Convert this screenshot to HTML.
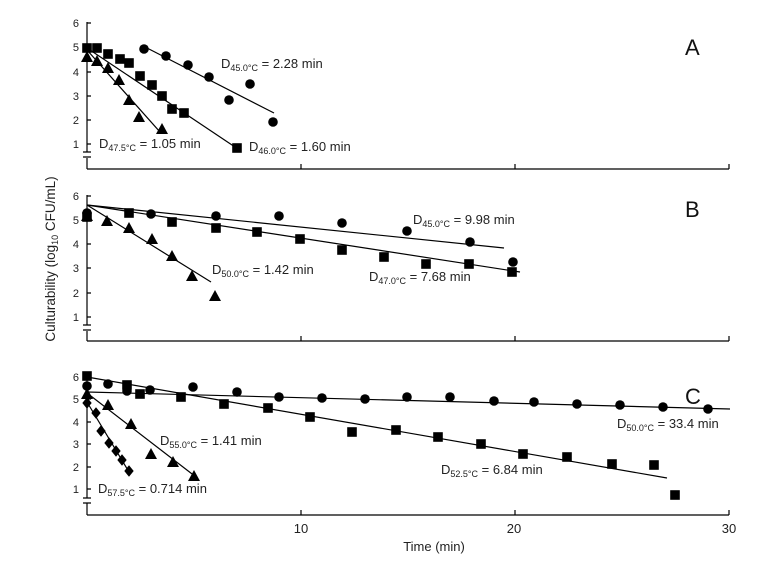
<!DOCTYPE html>
<html><head><meta charset="utf-8"><style>
body{margin:0;background:#fff}
svg{display:block;font-family:"Liberation Sans",Arial,sans-serif}
</style></head><body>
<svg width="766" height="566" viewBox="0 0 766 566" xmlns="http://www.w3.org/2000/svg">
<defs>
<circle id="c" r="4.8" fill="#000"/>
<rect id="s" x="-4.8" y="-4.8" width="9.6" height="9.6" fill="#000"/>
<polygon id="t" points="0,-6 6,5 -6,5" fill="#000"/>
<polygon id="d" points="0,-5.8 4.7,0 0,5.8 -4.7,0" fill="#000"/>
</defs>
<g stroke="#000" stroke-width="1.2" fill="none">
<path d="M87,22V152M87,158V169M83,152h8M83,157h8M87,169H729M301,169v-5M515,169v-5M729,169v-5"/>
<path d="M87,23h4M87,47h4M87,72h4M87,96h4M87,120h4M87,144h4"/>
<path d="M87,195V325M87,331V341M83,325h8M83,330h8M87,341H729M301,341v-5M515,341v-5M729,341v-5"/>
<path d="M87,196h4M87,220h4M87,244h4M87,268h4M87,293h4M87,317h4"/>
<path d="M87,376V498M87,503V515M83,498h8M83,503h8M87,515H729M301,515v-5M515,515v-5M729,515v-5"/>
<path d="M87,377h4M87,399h4M87,422h4M87,444h4M87,467h4M87,489h4"/>
</g>
<g font-size="11" fill="#222" text-anchor="end">
<text x="79" y="27">6</text><text x="79" y="51">5</text><text x="79" y="76">4</text><text x="79" y="100">3</text><text x="79" y="124">2</text><text x="79" y="148">1</text>
<text x="79" y="200">6</text><text x="79" y="224">5</text><text x="79" y="248">4</text><text x="79" y="272">3</text><text x="79" y="297">2</text><text x="79" y="321">1</text>
<text x="79" y="381">6</text><text x="79" y="403">5</text><text x="79" y="426">4</text><text x="79" y="448">3</text><text x="79" y="471">2</text><text x="79" y="493">1</text>
</g>
<g font-size="13" fill="#222" text-anchor="middle">
<text x="301" y="533">10</text><text x="514" y="533">20</text><text x="729" y="533">30</text>
<text x="434" y="551">Time (min)</text>
</g>
<text transform="translate(55,259) rotate(-90)" font-size="13.5" fill="#222" text-anchor="middle">Culturability (log<tspan font-size="9" dy="3">10</tspan><tspan dy="-3"> CFU/mL)</tspan></text>
<g font-size="22" fill="#111"><text x="685" y="55">A</text><text x="685" y="217">B</text><text x="685" y="404">C</text></g>
<g stroke="#000" stroke-width="1.2">
<line x1="147" y1="48" x2="274" y2="113"/>
<line x1="87" y1="48" x2="235" y2="147"/>
<line x1="87" y1="50" x2="160" y2="132"/>
<line x1="87" y1="205" x2="504" y2="248"/>
<line x1="87" y1="205" x2="520" y2="272"/>
<line x1="87" y1="205" x2="211" y2="282"/>
<line x1="87" y1="392" x2="730" y2="409"/>
<line x1="87" y1="377" x2="667" y2="478"/>
<line x1="87" y1="393" x2="196" y2="477"/>
<line x1="87" y1="402" x2="129" y2="472"/>
</g>
<use href="#c" x="144" y="49"/><use href="#c" x="166" y="56"/><use href="#c" x="188" y="65"/><use href="#c" x="209" y="77"/><use href="#c" x="229" y="100"/><use href="#c" x="250" y="84"/><use href="#c" x="273" y="122"/>
<use href="#s" x="87" y="48"/><use href="#s" x="97" y="48"/><use href="#s" x="108" y="54"/><use href="#s" x="120" y="59"/><use href="#s" x="129" y="63"/><use href="#s" x="140" y="76"/><use href="#s" x="152" y="85"/><use href="#s" x="162" y="96"/><use href="#s" x="172" y="109"/><use href="#s" x="184" y="113"/><use href="#s" x="237" y="148"/>
<use href="#t" x="87" y="57"/><use href="#t" x="97" y="61"/><use href="#t" x="108" y="68"/><use href="#t" x="119" y="80"/><use href="#t" x="129" y="100"/><use href="#t" x="139" y="117"/><use href="#t" x="162" y="129"/>
<use href="#c" x="87" y="213"/><use href="#c" x="151" y="214"/><use href="#c" x="216" y="216"/><use href="#c" x="279" y="216"/><use href="#c" x="342" y="223"/><use href="#c" x="407" y="231"/><use href="#c" x="470" y="242"/><use href="#c" x="513" y="262"/>
<use href="#s" x="87" y="217"/><use href="#s" x="129" y="213"/><use href="#s" x="172" y="222"/><use href="#s" x="216" y="228"/><use href="#s" x="257" y="232"/><use href="#s" x="300" y="239"/><use href="#s" x="342" y="250"/><use href="#s" x="384" y="257"/><use href="#s" x="426" y="264"/><use href="#s" x="469" y="264"/><use href="#s" x="512" y="272"/>
<use href="#t" x="87" y="216"/><use href="#t" x="107" y="221"/><use href="#t" x="129" y="228"/><use href="#t" x="152" y="239"/><use href="#t" x="172" y="256"/><use href="#t" x="192" y="276"/><use href="#t" x="215" y="296"/>
<use href="#c" x="87" y="386"/><use href="#c" x="108" y="384"/><use href="#c" x="127" y="391"/><use href="#c" x="150" y="390"/><use href="#c" x="193" y="387"/><use href="#c" x="237" y="392"/><use href="#c" x="279" y="397"/><use href="#c" x="322" y="398"/><use href="#c" x="365" y="399"/><use href="#c" x="407" y="397"/><use href="#c" x="450" y="397"/><use href="#c" x="494" y="401"/><use href="#c" x="534" y="402"/><use href="#c" x="577" y="404"/><use href="#c" x="620" y="405"/><use href="#c" x="663" y="407"/><use href="#c" x="708" y="409"/>
<use href="#s" x="87" y="376"/><use href="#s" x="127" y="385"/><use href="#s" x="140" y="394"/><use href="#s" x="181" y="397"/><use href="#s" x="224" y="404"/><use href="#s" x="268" y="408"/><use href="#s" x="310" y="417"/><use href="#s" x="352" y="432"/><use href="#s" x="396" y="430"/><use href="#s" x="438" y="437"/><use href="#s" x="481" y="444"/><use href="#s" x="523" y="454"/><use href="#s" x="567" y="457"/><use href="#s" x="612" y="464"/><use href="#s" x="654" y="465"/><use href="#s" x="675" y="495"/>
<use href="#t" x="87" y="394"/><use href="#t" x="108" y="405"/><use href="#t" x="131" y="424"/><use href="#t" x="151" y="454"/><use href="#t" x="173" y="462"/><use href="#t" x="194" y="476"/>
<use href="#d" x="87" y="403"/><use href="#d" x="96" y="413"/><use href="#d" x="101" y="431"/><use href="#d" x="109" y="443"/><use href="#d" x="116" y="451"/><use href="#d" x="122" y="460"/><use href="#d" x="129" y="471"/>
<g font-size="13" fill="#222">
<text x="221" y="68">D<tspan font-size="9" dy="3">45.0°C</tspan><tspan dy="-3"> = 2.28 min</tspan></text>
<text x="99" y="148">D<tspan font-size="9" dy="3">47.5°C</tspan><tspan dy="-3"> = 1.05 min</tspan></text>
<text x="249" y="151">D<tspan font-size="9" dy="3">46.0°C</tspan><tspan dy="-3"> = 1.60 min</tspan></text>
<text x="413" y="224">D<tspan font-size="9" dy="3">45.0°C</tspan><tspan dy="-3"> = 9.98 min</tspan></text>
<text x="212" y="274">D<tspan font-size="9" dy="3">50.0°C</tspan><tspan dy="-3"> = 1.42 min</tspan></text>
<text x="369" y="281">D<tspan font-size="9" dy="3">47.0°C</tspan><tspan dy="-3"> = 7.68 min</tspan></text>
<text x="160" y="445">D<tspan font-size="9" dy="3">55.0°C</tspan><tspan dy="-3"> = 1.41 min</tspan></text>
<text x="98" y="493">D<tspan font-size="9" dy="3">57.5°C</tspan><tspan dy="-3"> = 0.714 min</tspan></text>
<text x="441" y="474">D<tspan font-size="9" dy="3">52.5°C</tspan><tspan dy="-3"> = 6.84 min</tspan></text>
<text x="617" y="428">D<tspan font-size="9" dy="3">50.0°C</tspan><tspan dy="-3"> = 33.4 min</tspan></text>
</g>
</svg>
</body></html>
